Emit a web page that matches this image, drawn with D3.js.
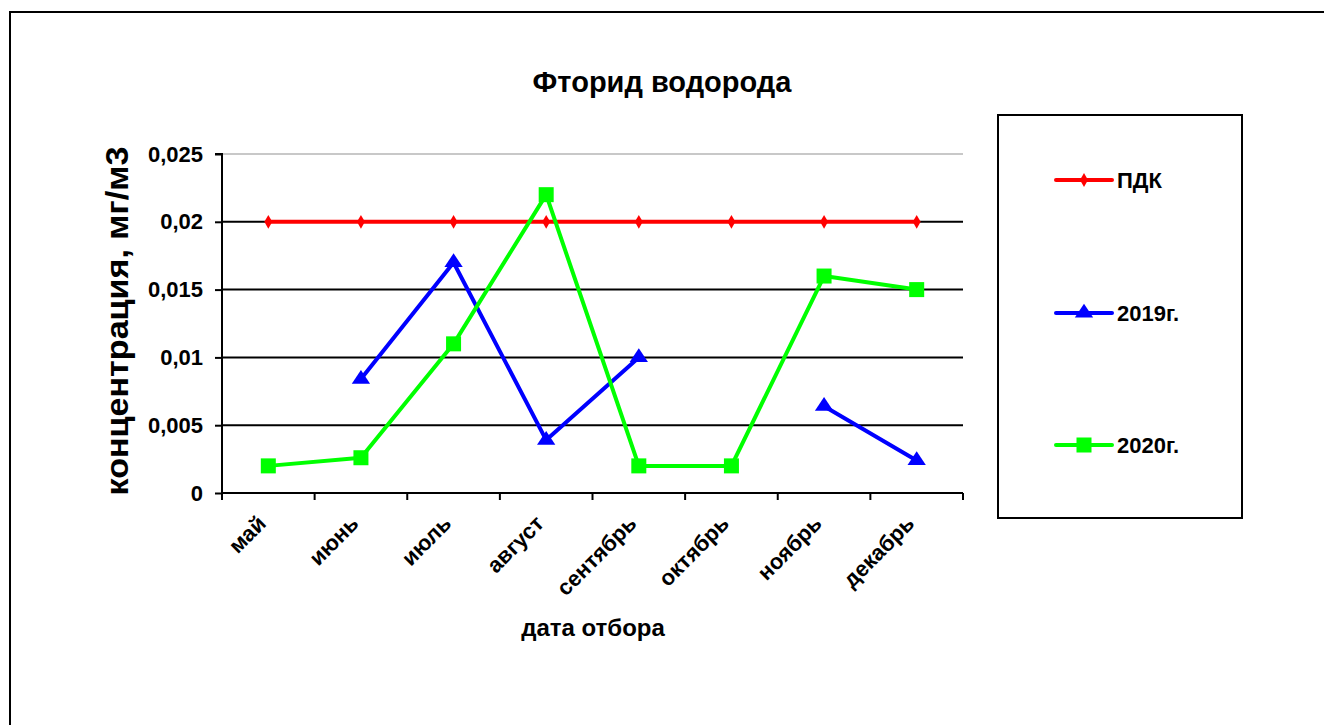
<!DOCTYPE html>
<html><head><meta charset="utf-8">
<script src="https://cdn.jsdelivr.net/npm/d3@7"></script>
<style>body{margin:0;background:#fff;}svg{display:block;font-family:Arial,"Liberation Sans",sans-serif;}</style>
</head><body><svg id="c" width="1324" height="725"></svg>
<script>
const categories = ["май","июнь","июль","август","сентябрь","октябрь","ноябрь","декабрь"];
const pdk = [0.02,0.02,0.02,0.02,0.02,0.02,0.02,0.02];
const y2019 = [null,0.0084,0.017,0.0039,0.01,null,0.0064,0.0024];
const y2020 = [0.002,0.0026,0.011,0.022,0.002,0.002,0.016,0.015];
const yTicks = [0,0.005,0.01,0.015,0.02,0.025];
const yTickLabels = ["0","0,005","0,01","0,015","0,02","0,025"];
const seriesNames = ["ПДК","2019г.","2020г."];

const svg = d3.select("#c");
svg.append("rect").attr("x",10).attr("y",12).attr("width",1330).attr("height",730)
  .attr("fill","none").attr("stroke","#000").attr("stroke-width",2);

const L=222,R=963,T=154,B=493;
const x = d3.scaleBand().domain(categories).range([L,R]);
const y = d3.scaleLinear().domain([0,0.025]).range([B,T]);

// gridlines
svg.append("g").selectAll("line").data(yTicks.filter(d=>d>0)).join("line")
  .attr("x1",L).attr("x2",R).attr("y1",d=>y(d)).attr("y2",d=>y(d))
  .attr("stroke",d=>d===0.025?"#c8c8c8":"#000").attr("stroke-width",2);

// y axis
const ya = svg.append("g").attr("transform",`translate(${L},0)`)
  .call(d3.axisLeft(y).tickValues(yTicks).tickFormat((d,i)=>yTickLabels[i]).tickSize(7).tickPadding(12));
ya.select(".domain").attr("stroke","#000").attr("stroke-width",2).attr("d",`M-7,${T}H0V${B}`);
ya.selectAll(".tick line").attr("stroke-width",2);
ya.selectAll("text").attr("font-size",22).attr("font-weight","bold").attr("font-family","Arial").attr("fill","#000");

// x axis
const xa = svg.append("g").attr("transform",`translate(0,${B})`)
  .call(d3.axisBottom(x).tickSize(0).tickPadding(0));
xa.select(".domain").attr("stroke-width",2).attr("d",`M${L},0H${R}`);
xa.selectAll(".tick line").remove();
const bounds = categories.map(c=>x(c)).concat([R]);
xa.selectAll(".bt").data(bounds).join("line").attr("class","bt")
  .attr("x1",d=>d).attr("x2",d=>d).attr("y1",0).attr("y2",7).attr("stroke","#000").attr("stroke-width",2);
xa.selectAll(".tick text").attr("font-size",22).attr("font-weight","bold").attr("font-family","Arial")
  .attr("fill","#000").attr("text-anchor","end").attr("dy",0)
  .attr("transform","translate(-1,32) rotate(-45)");

// titles
svg.append("text").attr("x",662).attr("y",92).attr("text-anchor","middle")
  .attr("font-size",29).attr("font-weight","bold").text("Фторид водорода");
svg.append("text").attr("transform","translate(128,321) rotate(-90) scale(1.1,1)").attr("text-anchor","middle")
  .attr("font-size",31).attr("font-weight","bold").text("концентрация, мг/м3");
svg.append("text").attr("x",593).attr("y",636).attr("text-anchor","middle")
  .attr("font-size",24).attr("font-weight","bold").text("дата отбора");

const cx = c=>x(c)+x.bandwidth()/2;
const line = d3.line().defined(d=>d.v!=null).x(d=>cx(d.c)).y(d=>y(d.v));
const mk = arr=>arr.map((v,i)=>({c:categories[i],v}));
const colors = ["#ff0000","#0000ff","#00ff00"];
const datas = [pdk,y2019,y2020];
const tri = d3.symbol().type(d3.symbolTriangle).size(110);
const sq = 15, dia = d3.symbol().type(d3.symbolDiamond).size(55);

function marker(g,k,px,py){
  if(k===0) g.append("path").attr("d",dia()).attr("transform",`translate(${px},${py})`).attr("fill",colors[0]);
  else if(k===1) g.append("path").attr("d",tri()).attr("transform",`translate(${px},${py}) scale(1.15,1)`).attr("fill",colors[1]);
  else g.append("rect").attr("x",px-sq/2).attr("y",py-sq/2).attr("width",sq).attr("height",sq).attr("fill",colors[2]);
}
datas.forEach((arr,k)=>{
  const d = mk(arr);
  svg.append("path").datum(d).attr("d",line).attr("fill","none").attr("stroke",colors[k]).attr("stroke-width",4).attr("stroke-linejoin","round");
  const g = svg.append("g");
  d.filter(p=>p.v!=null).forEach(p=>marker(g,k,cx(p.c),y(p.v)));
});

// legend
svg.append("rect").attr("x",998).attr("y",115).attr("width",244).attr("height",403)
  .attr("fill","#fff").attr("stroke","#000").attr("stroke-width",2);
const ly = [180,313,445];
seriesNames.forEach((n,k)=>{
  const g = svg.append("g");
  g.append("line").attr("x1",1056).attr("x2",1112).attr("y1",ly[k]).attr("y2",ly[k])
    .attr("stroke",colors[k]).attr("stroke-width",4).attr("stroke-linecap","round");
  marker(g,k,1084,ly[k]);
  g.append("text").attr("x",1117).attr("y",ly[k]+8).attr("font-size",22).attr("font-weight","bold").text(n);
});
</script></body></html>
